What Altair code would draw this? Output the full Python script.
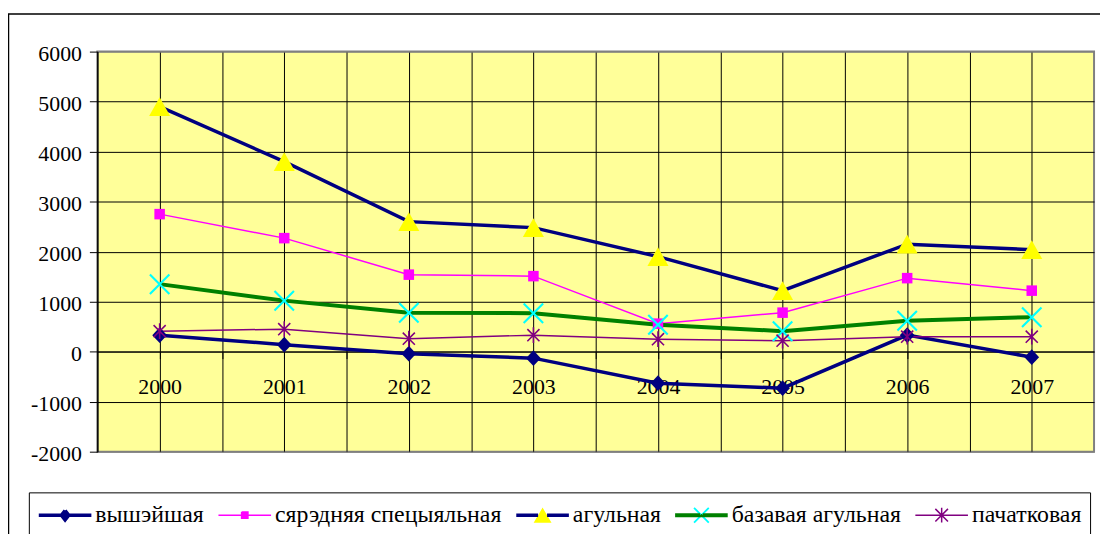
import altair as alt
import pandas as pd

# ---- data ----
years = ["2000", "2001", "2002", "2003", "2004", "2005", "2006", "2007"]
series = ["вышэйшая", "сярэдняя спецыяльная", "агульная", "базавая агульная", "пачатковая"]
vyshejshaja = [330, 140, -40, -130, -630, -730, 330, -110]
siaredniaja = [2750, 2270, 1540, 1510, 560, 780, 1470, 1220]
agulnaja = [4900, 3800, 2600, 2480, 1900, 1220, 2150, 2040]
bazavaja = [1350, 1020, 780, 770, 540, 410, 620, 690]
pachatkovaja = [410, 450, 260, 330, 250, 220, 300, 300]
y_ticks = [-2000, -1000, 0, 1000, 2000, 3000, 4000, 5000, 6000]

# ---- styles ----
FONT = "'Liberation Serif', 'Times New Roman', serif"
W, H = 1004, 403
YMIN, YMAX = -2000, 6000
SYM = 2809            # symbol box: sqrt(SYM) = 53 px
U = SYM ** 0.5 / 2    # 1 path unit in px


def poly(pts, close=True):
    return "M" + "L".join("%.4f,%.4f" % p for p in pts) + ("Z" if close else "")


def bar(x1, y1, x2, y2, h):
    dx, dy = x2 - x1, y2 - y1
    n = (dx * dx + dy * dy) ** 0.5
    px, py = -dy / n * h, dx / n * h
    return poly([(x1 - px, y1 - py), (x2 - px, y2 - py), (x2 + px, y2 + py), (x1 + px, y1 + py)])


def x_outline(a, h):
    k = h / 2 ** 0.5
    c = 2 * k
    return [(-c, 0), (-a - k, -a + k), (-a + k, -a - k), (0, -c), (a - k, -a - k),
            (a + k, -a + k), (c, 0), (a + k, a - k), (a - k, a + k), (0, c),
            (-a + k, a + k), (-a - k, a - k)]


def tri_outline(w, hh):
    return [(-w / 2, 0), (0, -hh), (w, hh), (-w, hh)]


def perim(pts):
    s = 0
    for i in range(len(pts)):
        x1, y1 = pts[i]
        x2, y2 = pts[(i + 1) % len(pts)]
        s += ((x2 - x1) ** 2 + (y2 - y1) ** 2) ** 0.5
    return s


def line_through(outline):
    # legend symbol: line on both sides, marker outline traced but left unstroked
    n = -outline[0][0]
    pts = [(-1, 0)] + outline + [outline[0], (n, 0), (1, 0)]
    dash = [(1 - n) * U, (perim(outline) + 2 * n) * U, (1 - n) * U, 100 * U]
    return poly(pts, close=False), [round(d, 2) for d in dash]


# plot markers (filled shapes)
marker_shapes = [
    "M0,-0.3L0.28,0L0,0.3L-0.28,0Z",
    "M-0.2,-0.2H0.2V0.2H-0.2Z",
    "M0,-0.36L0.4,0.36L-0.4,0.36Z",
    poly(x_outline(0.37, 0.04)),
    bar(-0.23, -0.23, 0.23, 0.23, 0.03) + bar(-0.23, 0.23, 0.23, -0.23, 0.03)
    + bar(0, -0.3, 0, 0.3, 0.03),
]
line_colors = ["#000080", "#FF00FF", "#000080", "#008000", "#800080"]
line_widths = [3.5, 1.5, 3.5, 4.0, 1.5]
marker_colors = ["#000080", "#FF00FF", "#FFFF00", "#00FFFF", "#800080"]

# legend symbols: line + marker in one path
tri_path, tri_dash = line_through(tri_outline(0.34, 0.29))
x_path, x_dash = line_through(x_outline(0.28, 0.035))
SOLID = [round(100 * U, 2), 0]
legend_paths = [
    "M-1,0L1,0" + poly([(0, -0.18), (0.14, 0), (0, 0.18), (-0.14, 0)]),
    "M-1,0L1,0" + poly([(-0.12, -0.12), (0.12, -0.12), (0.12, 0.12), (-0.12, 0.12)]),
    tri_path,
    x_path,
    "M-1,0L1,0M-0.24,-0.24L0.24,0.24M-0.24,0.24L0.24,-0.24M0,-0.28L0,0.28",
]
legend_dash = [SOLID, SOLID, tri_dash, x_dash, SOLID]
legend_fill = ["#000080", "#FF00FF", "#FFFF00", "#00FFFF", "transparent"]

columns = [vyshejshaja, siaredniaja, agulnaja, bazavaja, pachatkovaja]
rows = []
for name, vals in zip(series, columns):
    for i, (yr, v) in enumerate(zip(years, vals)):
        rows.append({"idx": i, "year": yr, "series": name, "marker": name, "value": v})
df = pd.DataFrame(rows)


def js(v):
    if isinstance(v, str):
        return "'" + v + "'"
    if isinstance(v, (list, tuple)):
        return "[" + ",".join(js(e) for e in v) + "]"
    return str(v)


def per_entry(values):
    return {"expr": js(values) + "[indexof(" + js(series) + ", datum.value)]"}


x_label_expr = "datum.value % 1 === 0 ? " + js(years) + "[datum.value] : ''"
grid_test = "datum.value === " + str(YMIN) + " || datum.value === " + str(YMAX)

x_enc = alt.X(
    "idx:Q",
    scale=alt.Scale(domain=[-0.5, len(years) - 0.5], nice=False, zero=False),
    axis=alt.Axis(
        values=[i / 2 for i in range(0, 2 * len(years) - 1)],
        grid=True, gridColor="black", gridWidth=1,
        domainColor="black", domainWidth=1,
        tickColor="black", tickSize=7, tickWidth=1,
        labelExpr=x_label_expr,
        labelFont=FONT, labelFontSize=22, labelColor="black",
        labelPadding=18, labelAngle=0, labelFlush=False, labelOverlap=False,
        offset=-H * (0 - YMIN) / (YMAX - YMIN), title=None,
    ),
)
y_enc = alt.Y(
    "value:Q",
    scale=alt.Scale(domain=[YMIN, YMAX], nice=False, zero=False),
    axis=alt.Axis(
        values=y_ticks,
        grid=True,
        gridColor={"condition": {"test": grid_test, "value": "#808080"}, "value": "black"},
        gridWidth=1,
        domainColor="black", domainWidth=1.5,
        tickColor="black", tickSize=8, tickWidth=1,
        labelExpr="'' + datum.value",
        labelFont=FONT, labelFontSize=22, labelColor="black",
        labelPadding=8, labelOffset=2, labelOverlap=False, labelFlush=False,
        title=None,
    ),
)

legend = alt.Legend(
    title=None, orient="none", legendX=-69, legendY=444,
    direction="horizontal", columns=5, symbolSize=SYM,
    symbolType=per_entry(legend_paths),
    symbolStrokeWidth=per_entry(line_widths),
    symbolFillColor=per_entry(legend_fill),
    symbolDash=per_entry(legend_dash),
    labelFont=FONT, labelFontSize=24, labelColor="black",
    labelOffset=2, labelLimit=600, columnPadding=12, padding=8, clipHeight=30,
    strokeColor="black",
)

frame = alt.Chart(alt.Data(values=[{}])).mark_rect(
    fill="transparent", stroke="black", strokeWidth=1.5
).encode(
    x=alt.value(-89.5), x2=alt.value(1200), y=alt.value(-38), y2=alt.value(700)
)

lines = alt.Chart(df).mark_line(clip=False).encode(
    x=x_enc, y=y_enc,
    stroke=alt.Stroke("series:N", scale=alt.Scale(domain=series, range=line_colors),
                      legend=legend),
    strokeWidth=alt.StrokeWidth("series:N",
                                scale=alt.Scale(type="ordinal", domain=series, range=line_widths),
                                legend=None),
    order="idx:Q",
)

points = alt.Chart(df).mark_point(size=SYM, filled=True, opacity=1, strokeWidth=0).encode(
    x=x_enc, y=y_enc,
    shape=alt.Shape("marker:N", sort=series, scale=alt.Scale(range=marker_shapes),
                    legend=None),
    fill=alt.Fill("marker:N", sort=series, scale=alt.Scale(range=marker_colors),
                  legend=None),
)

chart = alt.layer(frame, lines, points).properties(
    width=W, height=H,
    autosize=alt.AutoSizeParams(type="none"),
    padding={"left": 90, "top": 42, "right": 6, "bottom": 81},
    background="white",
).configure_view(
    fill="#FFFF99", stroke="#808080", strokeWidth=2
)

chart.save("out.html", embed_options={"renderer": "svg", "actions": False})
